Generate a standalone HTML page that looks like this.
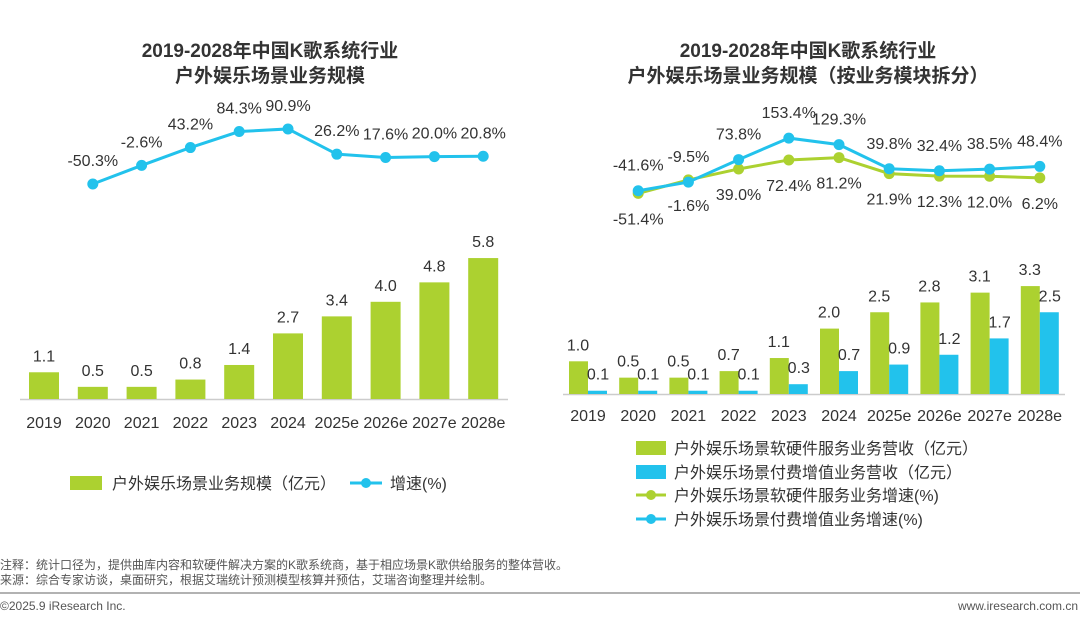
<!DOCTYPE html>
<html><head><meta charset="utf-8"><style>
html,body{margin:0;padding:0;background:#fff;}
body{width:1080px;height:616px;overflow:hidden;font-family:"Liberation Sans","Noto Sans CJK SC",sans-serif;}
svg text{font-family:"Liberation Sans","Noto Sans CJK SC",sans-serif;}
</style></head><body>
<svg id="c" width="1080" height="616" xmlns="http://www.w3.org/2000/svg">
<text x="270" y="57" text-anchor="middle" font-size="19" font-weight="bold" fill="#333">2019-2028年中国K歌系统行业</text>
<text x="270" y="82" text-anchor="middle" font-size="19" font-weight="bold" fill="#333">户外娱乐场景业务规模</text>
<text x="808" y="57" text-anchor="middle" font-size="19" font-weight="bold" fill="#333">2019-2028年中国K歌系统行业</text>
<text x="808" y="82" text-anchor="middle" font-size="19" font-weight="bold" fill="#333">户外娱乐场景业务规模（按业务模块拆分）</text>
<g id="L"></g><g id="R"></g>
<rect x="70" y="476" width="32" height="14" fill="#acd130"/>
<text x="112" y="489" font-size="16" fill="#333">户外娱乐场景业务规模（亿元）</text>
<line x1="350" y1="483" x2="382" y2="483" stroke="#22c2ec" stroke-width="3"/>
<circle cx="366" cy="483" r="5" fill="#22c2ec"/>
<text x="390" y="489" font-size="16" fill="#333">增速(%)</text>
<rect x="636" y="441" width="30" height="14" fill="#acd130"/>
<text x="674" y="454" font-size="16" fill="#333">户外娱乐场景软硬件服务业务营收（亿元）</text>
<rect x="636" y="465" width="30" height="14" fill="#22c2ec"/>
<text x="674" y="478" font-size="16" fill="#333">户外娱乐场景付费增值业务营收（亿元）</text>
<line x1="636" y1="495" x2="666" y2="495" stroke="#acd130" stroke-width="3"/>
<circle cx="651" cy="495" r="5" fill="#acd130"/>
<text x="674" y="501" font-size="16" fill="#333">户外娱乐场景软硬件服务业务增速(%)</text>
<line x1="636" y1="519" x2="666" y2="519" stroke="#22c2ec" stroke-width="3"/>
<circle cx="651" cy="519" r="5" fill="#22c2ec"/>
<text x="674" y="525" font-size="16" fill="#333">户外娱乐场景付费增值业务增速(%)</text>
<text x="0" y="569" font-size="12" fill="#555">注释：统计口径为，提供曲库内容和软硬件解决方案的K歌系统商，基于相应场景K歌供给服务的整体营收。</text>
<text x="0" y="584" font-size="12" fill="#555">来源：综合专家访谈，桌面研究，根据艾瑞统计预测模型核算并预估，艾瑞咨询整理并绘制。</text>
<line x1="0" y1="593" x2="1080" y2="593" stroke="#999" stroke-width="1.5"/>
<text x="0" y="610" font-size="12" fill="#555">©2025.9 iResearch Inc.</text>
<text x="1078" y="610" text-anchor="end" font-size="12" fill="#555">www.iresearch.com.cn</text>
</svg>
<script>
const categories=["2019","2020","2021","2022","2023","2024","2025e","2026e","2027e","2028e"];
const leftBarValues=[1.1,0.5,0.5,0.8,1.4,2.7,3.4,4.0,4.8,5.8];
const leftGrowth=[null,-50.3,-2.6,43.2,84.3,90.9,26.2,17.6,20.0,20.8];
const rightHwValues=[1.0,0.5,0.5,0.7,1.1,2.0,2.5,2.8,3.1,3.3];
const rightPaidValues=[0.1,0.1,0.1,0.1,0.3,0.7,0.9,1.2,1.7,2.5];
const rightHwGrowth=[null,-51.4,-1.6,39.0,72.4,81.2,21.9,12.3,12.0,6.2];
const rightPaidGrowth=[null,-41.6,-9.5,73.8,153.4,129.3,39.8,32.4,38.5,48.4];
const NS="http://www.w3.org/2000/svg";
const G="#acd130",B="#22c2ec";
function el(p,t,a){const e=document.createElementNS(NS,t);for(const k in a)e.setAttribute(k,a[k]);p.appendChild(e);return e;}
function txt(p,x,y,s,size,anchor){const e=el(p,'text',{x:x,y:y,'font-size':size,fill:'#333','text-anchor':anchor||'middle'});e.textContent=s;return e;}
const L=document.getElementById('L');
const lx=i=>44+i*48.8, lyB=v=>399-v*24.3, lyG=v=>164.4-0.39*v;
{const a=el(L,'line',{x1:20,y1:399.5,x2:508,y2:399.5,stroke:'#ccc','stroke-width':1.5});

}
categories.forEach((c,i)=>{
 const r=el(L,'rect',{x:lx(i)-15,y:lyB(leftBarValues[i]),width:30,height:399-lyB(leftBarValues[i]),fill:G});
 
 
 const t=txt(L,lx(i),lyB(leftBarValues[i])-11,leftBarValues[i].toFixed(1),16);
 
 
 const k=txt(L,lx(i),428,c,16);
 
 
});
function line(P,vals,xf,yf,color,name,dy){
 let d='';vals.forEach((v,i)=>{if(v==null)return;d+=(d?'L':'M')+xf(i)+','+yf(v);});
 const p=el(P,'path',{d:d,fill:'none',stroke:color,'stroke-width':3});
 
 
 vals.forEach((v,i)=>{if(v==null)return;
  const c=el(P,'circle',{cx:xf(i),cy:yf(v),r:5.5,fill:color});
  
  
  const t=txt(P,xf(i),yf(v)+dy,v.toFixed(1)+'%',16);
  
  
 });
}
line(L,leftGrowth,lx,lyG,B,'left-growth',-18);
const R=document.getElementById('R');
const rx=i=>588+i*50.2, ryB=v=>394-v*32.7, ryG=v=>179.5-0.27*v;
{const a=el(R,'line',{x1:563,y1:394.5,x2:1065,y2:394.5,stroke:'#ccc','stroke-width':1.5});

}
categories.forEach((c,i)=>{
 const g=el(R,'rect',{x:rx(i)-19,y:ryB(rightHwValues[i]),width:19,height:394-ryB(rightHwValues[i]),fill:G});
 
 
 const b=el(R,'rect',{x:rx(i),y:ryB(rightPaidValues[i]),width:19,height:394-ryB(rightPaidValues[i]),fill:B});
 
 
 const t1=txt(R,rx(i)-10,ryB(rightHwValues[i])-11,rightHwValues[i].toFixed(1),16);
 
 
 const t2=txt(R,rx(i)+10,ryB(rightPaidValues[i])-11,rightPaidValues[i].toFixed(1),16);
 
 
 const k=txt(R,rx(i),421,c,16);
 
 
});
line(R,rightHwGrowth,rx,ryG,G,'right-hw-growth',31);
line(R,rightPaidGrowth,rx,ryG,B,'right-paid-growth',-20);
</script>
</body></html>
